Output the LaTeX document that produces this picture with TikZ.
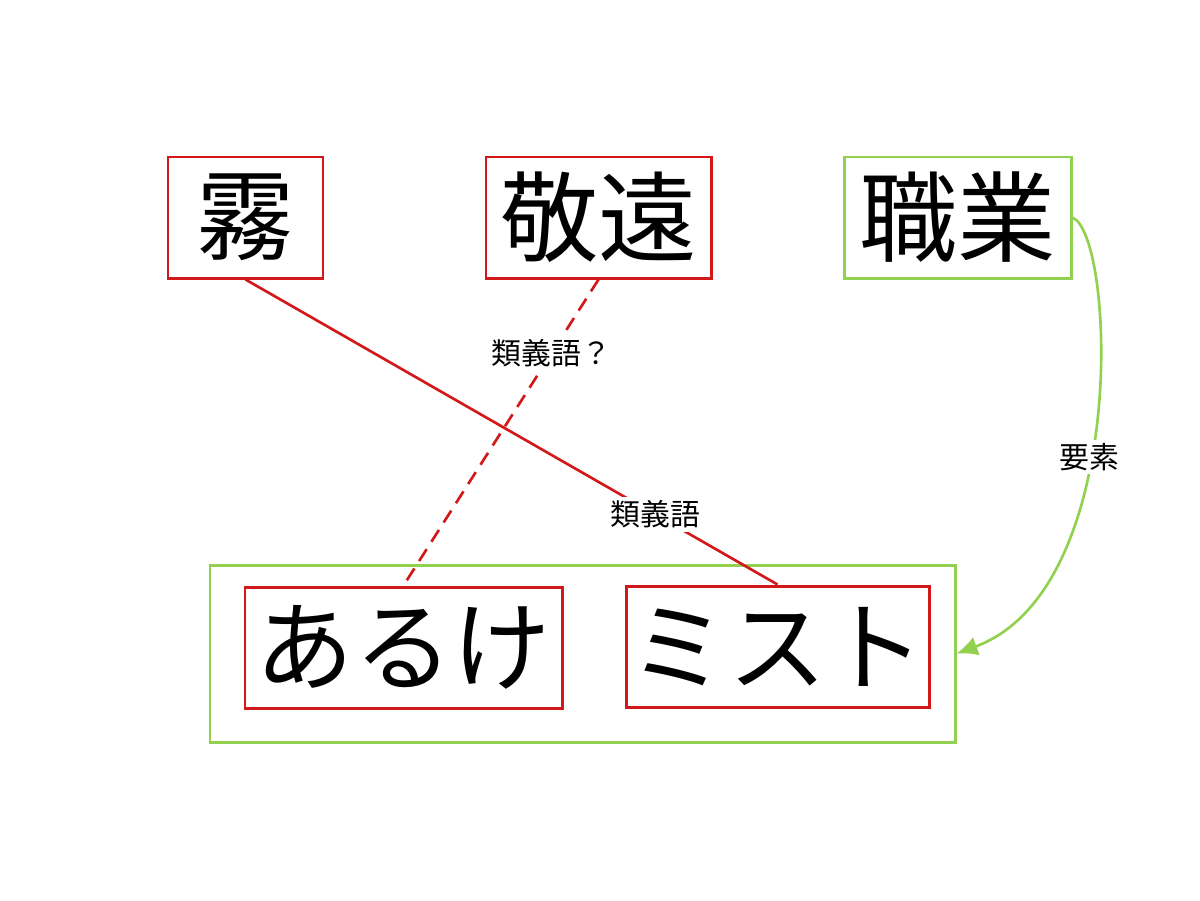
\documentclass[tikz,border=0pt]{standalone}
\usepackage{fontspec}
\setmainfont{Noto Sans CJK JP}
\usetikzlibrary{arrows.meta}

\definecolor{boxred}{RGB}{210,24,24}
\definecolor{boxgreen}{RGB}{146,208,80}

\begin{document}
\begin{tikzpicture}[x=0.02cm, y=-0.02cm,
        word/.style={draw=boxred, line width=1.7pt, inner sep=0pt, font=\fontsize{56}{60}\selectfont},
        link/.style={draw=boxred, line width=1.5pt},
        tag/.style={fill=white, inner sep=2pt, font=\fontsize{17}{19}\selectfont}]
    \useasboundingbox (0,0) rectangle (1200,900);
    % Define nodes
        \node (outer) [draw=boxgreen, line width=1.7pt, minimum width=745*0.02cm, minimum height=177*0.02cm] at (582.5,653.5) {};
        \node (kiri) [word, minimum width=155*0.02cm, minimum height=121*0.02cm] at (245.5,217.5) {霧};
        \node (keien) [word, minimum width=225*0.02cm, minimum height=121*0.02cm] at (598.5,217.5) {敬遠};
        \node (shokugyo) [word, draw=boxgreen, minimum width=227*0.02cm, minimum height=121*0.02cm] at (957.5,217.5) {職業};
        \node (aruke) [word, minimum width=317*0.02cm, minimum height=121*0.02cm] at (403.5,647.5) {あるけ};
        \node (mist) [word, minimum width=303*0.02cm, minimum height=121*0.02cm] at (777.5,646.5) {ミスト};
        % Draw lines
        \draw[link] (kiri.south) -- (mist.north) node[tag, pos=0.77] {類義語};
        \draw[link, dashed, dash pattern=on 8pt off 5pt] (keien.south) -- (aruke.north) node[tag, pos=0.24] {類義語？};
        \draw[draw=boxgreen, line width=1.5pt, -{Latex[length=12pt, width=11pt]}] (shokugyo.east) .. controls (1115,235) and (1130,590) .. (outer.east) node[tag, pos=0.565] {要素};
    \end{tikzpicture}
\end{document}
